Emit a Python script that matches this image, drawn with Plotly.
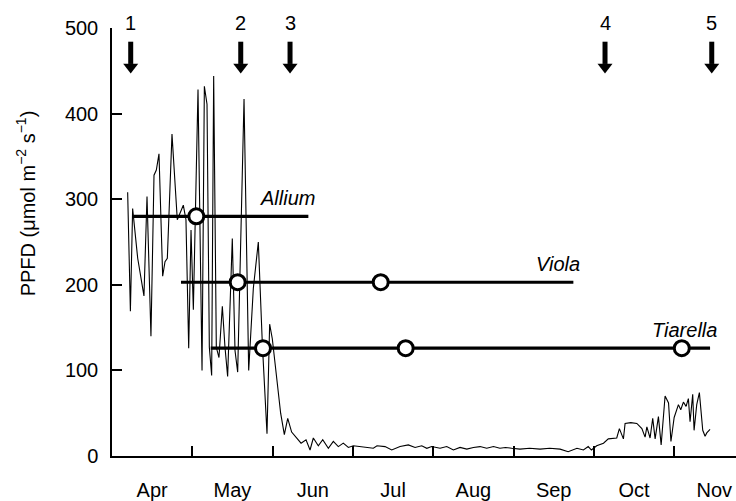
import plotly.graph_objects as go

# ---------------- data ----------------
# daily PPFD trace (x = months since 1 April, y = PPFD in umol m-2 s-1)
t_month = [0.195, 0.229, 0.257, 0.32, 0.398, 0.436, 0.485, 0.523, 0.552, 0.585,
           0.631, 0.66, 0.689, 0.747, 0.813, 0.859, 0.888, 0.921, 0.955, 0.984,
           1.013, 1.071, 1.121, 1.15, 1.183, 1.212, 1.241, 1.266, 1.299, 1.332,
           1.374, 1.407, 1.44, 1.498, 1.532, 1.565, 1.644, 1.702, 1.76, 1.822,
           1.872, 1.93, 1.963, 1.996, 2.05, 2.1, 2.146, 2.188, 2.237, 2.3,
           2.354, 2.416, 2.466, 2.507, 2.569, 2.624, 2.694, 2.756, 2.818, 2.88,
           2.943, 3.005, 3.088, 3.213, 3.254, 3.3, 3.4, 3.483, 3.587, 3.69,
           3.774, 3.857, 3.92, 3.98, 4.085, 4.168, 4.251, 4.334, 4.418, 4.5,
           4.583, 4.666, 4.75, 4.83, 4.9, 4.977, 5.08, 5.2, 5.33, 5.45,
           5.58, 5.68, 5.79, 5.87, 5.93, 5.97, 6.035, 6.12, 6.18, 6.285,
           6.318, 6.368, 6.389, 6.46, 6.535, 6.598, 6.638, 6.66, 6.7, 6.733,
           6.763, 6.804, 6.838, 6.887, 6.93, 6.96, 7.0, 7.053, 7.082, 7.115,
           7.148, 7.177, 7.198, 7.231, 7.248, 7.281, 7.314, 7.356, 7.385, 7.406,
           7.447]
ppfd = [308, 169, 289, 231, 187, 303, 140, 328, 334, 353,
        210, 227, 231, 376, 276, 287, 293, 276, 126, 264,
        171, 428, 100, 432, 411, 127, 94, 444, 127, 115,
        175, 127, 93, 254, 123, 98, 417, 100, 196, 250,
        131, 26, 154, 137, 88, 50, 25, 44, 28, 21,
        15, 19, 7, 21, 12, 19, 9, 17, 11, 15,
        10, 12, 11, 9, 9, 12, 11, 7, 11, 13,
        10, 12, 9, 11, 9, 11, 7, 10, 8, 10,
        11, 9, 11, 9, 10, 9, 8, 9, 8, 9,
        8, 5, 9, 7, 11, 7, 12, 15, 20, 21,
        32, 20, 38, 39, 38, 32, 22, 34, 21, 44,
        20, 46, 13, 70, 62, 17, 45, 60, 54, 63,
        58, 67, 40, 72, 30, 60, 74, 30, 23, 27,
        31]

month_labels = ["Apr", "May", "Jun", "Jul", "Aug", "Sep", "Oct", "Nov"]
y_ticks = [0, 100, 200, 300, 400, 500]

# species periods (horizontal bars) and their marked dates (circles)
species = ["Allium", "Viola", "Tiarella"]
species_level = [280, 203, 126]
species_start = [0.265, 0.859, 1.229]
species_end = [2.445, 5.745, 7.447]
species_points = [[1.05], [1.565, 3.346], [1.88, 3.657, 7.095]]

# numbered events (arrows)
event_pos = [0.233, 1.603, 2.217, 6.139, 7.468]
event_labels = ["1", "2", "3", "4", "5"]

# ---------------- figure ----------------
FONT = "Liberation Sans, Arial, sans-serif"
FS = 20

fig = go.Figure()

fig.add_trace(go.Scatter(x=t_month, y=ppfd, mode="lines",
                         line=dict(color="black", width=1.1),
                         hoverinfo="skip", showlegend=False))

for name, lvl, s, e, pts in zip(species, species_level, species_start,
                                species_end, species_points):
    fig.add_trace(go.Scatter(x=[s, e], y=[lvl, lvl], mode="lines",
                             line=dict(color="black", width=3.2),
                             showlegend=False, hoverinfo="skip"))
    fig.add_trace(go.Scatter(x=pts, y=[lvl] * len(pts), mode="markers",
                             marker=dict(size=15, color="white",
                                         line=dict(color="black", width=3)),
                             showlegend=False, hoverinfo="skip"))
    fig.add_annotation(x=e + 0.11, y=lvl, xref="x", yref="y",
                       text=f"<i>{name}</i>", showarrow=False,
                       xanchor="right", yanchor="bottom", yshift=5,
                       font=dict(family=FONT, size=FS, color="black"))

# arrows for events
shaft_x, shaft_y = [], []
for p in event_pos:
    shaft_x += [p, p, None]
    shaft_y += [484, 458, None]
fig.add_trace(go.Scatter(x=shaft_x, y=shaft_y, mode="lines",
                         line=dict(color="black", width=5),
                         showlegend=False, hoverinfo="skip", cliponaxis=False))
fig.add_trace(go.Scatter(x=event_pos, y=[454.5] * len(event_pos), mode="markers",
                         marker=dict(symbol="triangle-down", size=13, color="black",
                                     line=dict(width=0)),
                         showlegend=False, hoverinfo="skip", cliponaxis=False))
for p, lab in zip(event_pos, event_labels):
    fig.add_annotation(x=p, y=1.012, xref="x", yref="paper", text=lab,
                       showarrow=False, xanchor="center", yanchor="middle",
                       font=dict(family=FONT, size=FS, color="black"))

# y axis title as annotation
fig.add_annotation(x=-0.138, y=0.59, xref="paper", yref="paper",
                   text="PPFD (μmol m<sup>−2</sup> s<sup>−1</sup>)",
                   textangle=-90, showarrow=False, xanchor="center", yanchor="middle",
                   font=dict(family=FONT, size=FS, color="black"))

fig.update_layout(
    width=736, height=501,
    margin=dict(l=112, r=0, t=28, b=41),
    paper_bgcolor="white", plot_bgcolor="white",
    font=dict(family=FONT, size=FS, color="black"),
    showlegend=False,
    xaxis=dict(range=[0, 7.77], showline=True, linecolor="black", linewidth=1.5,
               showgrid=False, zeroline=False,
               tickmode="array", tickvals=[i + 0.5 for i in range(len(month_labels))],
               ticktext=month_labels, ticks="", ticklabelstandoff=15,
               minor=dict(tickmode="array", tickvals=list(range(1, len(month_labels))),
                          ticks="inside", ticklen=10, tickcolor="black", tickwidth=1.5,
                          showgrid=False),
               tickfont=dict(family=FONT, size=FS, color="black")),
    yaxis=dict(range=[0, 500], showline=True, linecolor="black", linewidth=1.5,
               showgrid=False, zeroline=False,
               tickmode="array", tickvals=y_ticks,
               ticks="inside", ticklen=10, tickcolor="black", tickwidth=1.5,
               ticklabelstandoff=8,
               tickfont=dict(family=FONT, size=FS, color="black")),
)

fig.write_html("out.html", config={"displayModeBar": False},
               post_script="document.body.style.margin='0';")
